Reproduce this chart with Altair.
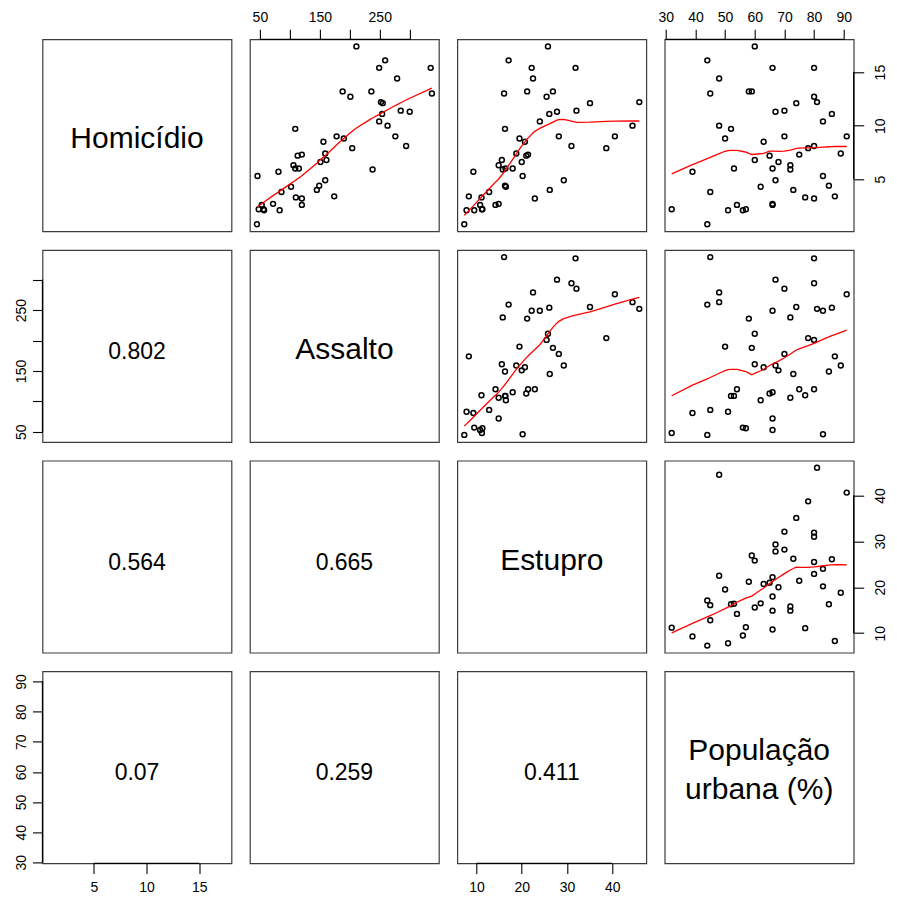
import altair as alt
import pandas as pd

# USArrests values
murder = [13.2, 10.0, 8.1, 8.8, 9.0, 7.9, 3.3, 5.9, 15.4, 17.4, 5.3, 2.6, 10.4, 7.2, 2.2, 6.0, 9.7, 15.4, 2.1, 11.3,
          4.4, 12.1, 2.7, 16.1, 9.0, 6.0, 4.3, 12.2, 2.1, 7.4, 11.4, 11.1, 13.0, 0.8, 7.3, 6.6, 4.9, 6.3, 3.4, 14.4,
          3.8, 13.2, 12.7, 3.2, 2.2, 8.5, 4.0, 5.7, 2.6, 6.8]
assault = [236, 263, 294, 190, 276, 204, 110, 238, 335, 211, 46, 120, 249, 113, 56, 115, 109, 249, 83, 300,
           149, 255, 72, 259, 178, 109, 102, 252, 57, 159, 285, 254, 337, 45, 120, 151, 159, 106, 174, 279,
           86, 188, 201, 120, 48, 156, 145, 81, 53, 161]
rape = [21.2, 44.5, 31.0, 19.5, 40.6, 38.7, 11.1, 15.8, 31.9, 25.8, 20.2, 14.2, 24.0, 21.0, 11.3, 18.0, 16.3, 22.2, 7.8, 27.8,
        16.3, 35.1, 14.9, 17.1, 28.2, 16.4, 16.5, 46.0, 9.5, 18.8, 32.1, 26.1, 16.1, 7.3, 21.4, 20.0, 29.3, 14.9, 8.3, 22.5,
        12.8, 26.9, 25.5, 22.9, 11.2, 20.7, 26.2, 9.3, 10.8, 15.6]
urbanpop = [58, 48, 80, 50, 91, 78, 77, 72, 80, 60, 83, 54, 83, 65, 57, 66, 52, 66, 51, 67,
            85, 74, 66, 44, 70, 53, 62, 81, 56, 89, 70, 86, 45, 44, 75, 68, 67, 72, 87, 48,
            45, 59, 80, 80, 32, 63, 73, 39, 66, 60]

var_names = ["Murder", "Assault", "Rape", "UrbanPop"]
var_labels = ["Homicídio", "Assalto", "Estupro", "População\nurbana (%)"]

corr_rows = [1, 2, 2, 3, 3, 3]
corr_cols = [0, 0, 1, 0, 1, 2]
corr_texts = ["0.802", "0.564", "0.665", "0.07", "0.259", "0.411"]

tick_values = {
    "Murder": [5, 10, 15],
    "Assault": [50, 100, 150, 200, 250, 300],
    "Rape": [10, 20, 30, 40],
    "UrbanPop": [30, 40, 50, 60, 70, 80, 90],
}

df = pd.DataFrame({"Murder": murder, "Assault": assault, "Rape": rape, "UrbanPop": urbanpop})

# R-style axis range: data range extended by 4% each side
domains = {}
for v in var_names:
    lo, hi = float(df[v].min()), float(df[v].max())
    r = hi - lo
    domains[v] = [lo - 0.04 * r, hi + 0.04 * r]

FONT = "Liberation Sans"
W, H = 189, 192


def make_axis(orient, var):
    kw = dict(orient=orient, values=tick_values[var], title=None, grid=False, domain=False,
              ticks=True, tickSize=10, tickColor="black", tickWidth=1.1,
              labelFont=FONT, labelFontSize=14, labelColor="black",
              labelOverlap=False, labelFlush=False, labelBound=False)
    if var == "Assault":
        kw["labelExpr"] = "datum.value % 100 == 50 ? datum.label : ''"
    if orient == "top":
        kw.update(labelAngle=0, labelAlign="center", labelBaseline="bottom", labelPadding=5)
    elif orient == "bottom":
        kw.update(labelAngle=0, labelAlign="center", labelBaseline="top", labelPadding=7)
    elif orient == "left":
        kw.update(labelAngle=270, labelAlign="center", labelBaseline="bottom", labelPadding=4)
    else:
        kw.update(labelAngle=270, labelAlign="center", labelBaseline="top", labelPadding=10)
    return alt.Axis(**kw)


def cell(i, j):
    xv, yv = var_names[j], var_names[i]
    xorient = None
    if i == 0 and j % 2 == 1:
        xorient = "top"
    elif i == 3 and j % 2 == 0:
        xorient = "bottom"
    yorient = None
    if j == 0 and i % 2 == 1:
        yorient = "left"
    elif j == 3 and i % 2 == 0:
        yorient = "right"

    xscale = alt.Scale(domain=domains[xv], nice=False, zero=False)
    yscale = alt.Scale(domain=domains[yv], nice=False, zero=False)
    xenc = alt.X(f"{xv}:Q", scale=xscale, axis=make_axis(xorient, xv) if xorient else None)
    yenc = alt.Y(f"{yv}:Q", scale=yscale, axis=make_axis(yorient, yv) if yorient else None)

    layers = []
    base = alt.Chart(df)
    if i < j:
        layers.append(base.mark_point(shape="circle", filled=False, color="black", size=24,
                                      strokeWidth=1.5, opacity=1).encode(x=xenc, y=yenc))
        layers.append(base.transform_loess(on=xv, loess=yv, bandwidth=2 / 3)
                      .mark_line(color="red", strokeWidth=1.3).encode(x=xenc, y=yenc))
    else:
        layers.append(base.mark_point(opacity=0).encode(x=xenc, y=yenc))

    # axis lines from first to last tick (as R draws them)
    if xorient:
        tv = tick_values[xv]
        rd = pd.DataFrame({xv: [tv[0]], "end": [tv[-1]]})
        layers.append(alt.Chart(rd).mark_rule(color="black", strokeWidth=1.3).encode(
            x=xenc, x2=alt.X2("end:Q"), y=alt.value(0 if xorient == "top" else H)))
    if yorient:
        tv = tick_values[yv]
        rd = pd.DataFrame({yv: [tv[0]], "end": [tv[-1]]})
        layers.append(alt.Chart(rd).mark_rule(color="black", strokeWidth=1.3).encode(
            y=yenc, y2=alt.Y2("end:Q"), x=alt.value(0 if yorient == "left" else W)))

    if i == j:
        lab = var_labels[i]
        multi = "\n" in lab
        layers.append(alt.Chart(pd.DataFrame({"t": [lab]})).mark_text(
            font=FONT, fontSize=30, color="black", align="center", baseline="alphabetic",
            lineBreak="\n", lineHeight=39).encode(
            x=alt.value(W / 2), y=alt.value(89 if multi else 109), text="t:N"))
    elif i > j:
        txt = [t for r, c, t in zip(corr_rows, corr_cols, corr_texts) if r == i and c == j][0]
        layers.append(alt.Chart(pd.DataFrame({"t": [txt]})).mark_text(
            font=FONT, fontSize=23, color="black", align="center", baseline="alphabetic").encode(
            x=alt.value(W / 2), y=alt.value(109), text="t:N"))

    return alt.layer(*layers).properties(width=W, height=H)


cells = [cell(i, j) for i in range(4) for j in range(4)]

chart = alt.concat(*cells, columns=4, spacing={"row": 18.7, "column": 18.4}, bounds="flush").properties(
    padding={"left": 5.5, "top": 1.3, "right": 0, "bottom": 0},
    background="white",
).configure_view(stroke="#3c3c3c", strokeWidth=1.2)

chart.save("out.html", embed_options={"renderer": "svg", "actions": False})
